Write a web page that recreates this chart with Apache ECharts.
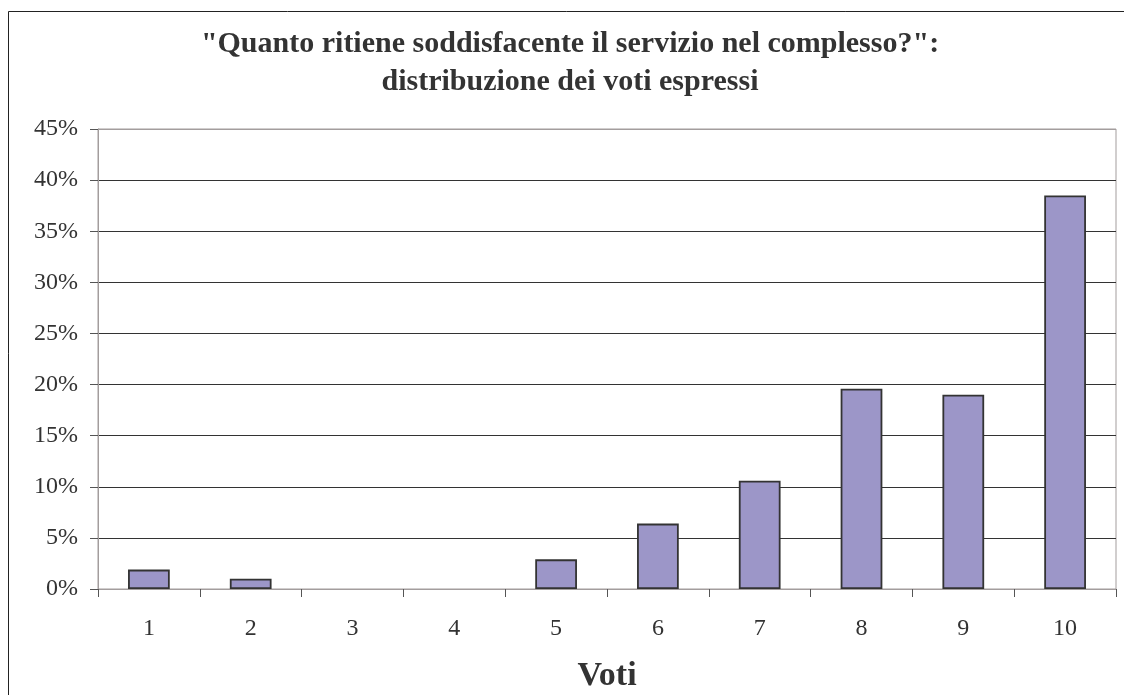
<!DOCTYPE html>
<html>
<head>
<meta charset="utf-8">
<script src="https://cdn.jsdelivr.net/npm/echarts@6/dist/echarts.min.js"></script>
<style>
  html, body { margin: 0; padding: 0; background: #fff; }
  #chart { width: 1124px; height: 695px; }
</style>
</head>
<body>
<div id="chart"></div>
<script>
const titleText = '"Quanto ritiene soddisfacente il servizio nel complesso?":\ndistribuzione dei voti espressi';
const xAxisName = 'Voti';
const categories = ['1', '2', '3', '4', '5', '6', '7', '8', '9', '10'];
const percentages = [1.9, 1.0, 0, 0, 2.9, 6.4, 10.6, 19.6, 19.0, 38.5];
const yTicks = [0, 5, 10, 15, 20, 25, 30, 35, 40, 45];

const serif = '"Liberation Serif", "Times New Roman", serif';
const chart = echarts.init(document.getElementById('chart'));
chart.setOption({
  backgroundColor: '#ffffff',
  animation: false,
  title: {
    text: titleText,
    left: 565,
    top: 20,
    textAlign: 'center',
    textStyle: {
      fontFamily: serif,
      fontWeight: 'bold',
      fontSize: 30,
      lineHeight: 38,
      color: '#333333'
    }
  },
  graphic: [{
    type: 'rect',
    shape: { x: 8.5, y: 11.5, width: 1300, height: 1000 },
    style: { fill: 'none', stroke: '#222222', lineWidth: 1 },
    silent: true,
    z: 0
  }],
  grid: {
    left: 98,
    right: 8,
    top: 129,
    bottom: 106,
    outerBoundsMode: 'none',
    show: true,
    borderColor: '#a39d9d',
    borderWidth: 1,
    backgroundColor: 'transparent'
  },
  xAxis: {
    type: 'category',
    data: categories,
    boundaryGap: true,
    name: xAxisName,
    nameLocation: 'middle',
    nameGap: 70,
    nameTextStyle: {
      fontFamily: serif,
      fontWeight: 'bold',
      fontSize: 34,
      color: '#333333'
    },
    axisLine: { show: true, lineStyle: { color: '#a39d9d', width: 1 } },
    axisTick: { show: true, alignWithLabel: false, length: 8, lineStyle: { color: '#555555' } },
    axisLabel: {
      margin: 28,
      fontFamily: serif,
      fontSize: 24,
      color: '#333333'
    },
    splitLine: { show: false }
  },
  yAxis: {
    type: 'value',
    min: yTicks[0],
    max: yTicks[yTicks.length - 1],
    interval: 5,
    axisLine: { show: true, lineStyle: { color: '#a39d9d', width: 1 } },
    axisTick: { show: true, length: 8, lineStyle: { color: '#555555' } },
    axisLabel: {
      margin: 20,
      fontFamily: serif,
      fontSize: 24,
      color: '#333333',
      formatter: '{value}%'
    },
    splitLine: {
      show: true,
      lineStyle: {
        color: ['#a39d9d', '#333333', '#333333', '#333333', '#333333', '#333333', '#333333', '#333333', '#333333', '#a39d9d'],
        width: 1
      }
    }
  },
  series: [{
    type: 'bar',
    data: percentages.map(v => v === 0 ? { value: v, itemStyle: { borderWidth: 0 } } : v),
    barWidth: '41%',
    itemStyle: {
      color: '#9c96c8',
      borderColor: '#333333',
      borderWidth: 1.8
    }
  }]
});
</script>
</body>
</html>
